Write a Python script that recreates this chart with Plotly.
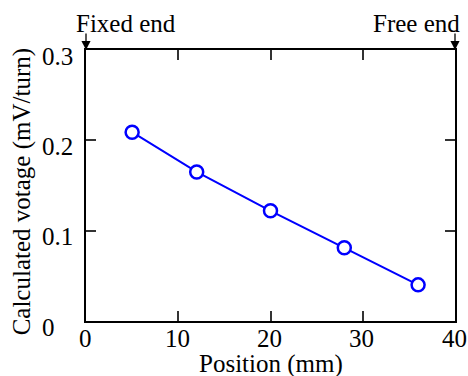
import plotly.graph_objects as go

position_mm = [5, 12, 20, 28, 36]
voltage_mv = [0.209, 0.165, 0.122, 0.081, 0.040]
x_ticks = [0, 10, 20, 30, 40]
x_tick_text = ["0", "10", "20", "30", "40"]
y_ticks = [0, 0.1, 0.2, 0.3]
y_tick_text = ["0", "0.1", "0.2", "0.3"]
end_labels = ["Fixed end", "Free end"]
end_positions = [0, 40]
x_title = "Position (mm)"
y_title = "Calculated votage (mV/turn)"

FONT = "Liberation Serif"
BLUE = "#0000ff"
tfont = dict(family=FONT, size=25, color="black")

fig = go.Figure()
fig.add_trace(go.Scatter(
    x=position_mm, y=voltage_mv, mode="lines+markers",
    line=dict(color=BLUE, width=2),
    marker=dict(symbol="circle", size=13, color="white",
                line=dict(color=BLUE, width=2.5)),
    showlegend=False, cliponaxis=False,
))

axis_common = dict(
    showline=True, linecolor="black", linewidth=2, mirror="ticks",
    ticks="inside", ticklen=10, tickwidth=1.5, tickcolor="#333",
    showgrid=False, zeroline=False, automargin=False, showticklabels=False,
)
fig.update_xaxes(range=[0, 40], tickvals=x_ticks, **axis_common)
fig.update_yaxes(range=[0, 0.3], tickvals=y_ticks, **axis_common)

# tick labels (placed at the axis values)
for v, t in zip(x_ticks, x_tick_text):
    fig.add_annotation(x=v, y=0, xref="x", yref="paper", text=t, showarrow=False,
                       xanchor="center", yanchor="middle", yshift=-17, xshift=-1, font=tfont)
for v, t in zip(y_ticks, y_tick_text):
    fig.add_annotation(x=-0.124, y=v, xref="paper", yref="y", text=t, showarrow=False,
                       xanchor="left", yanchor="middle", yshift=-6, font=tfont)

# axis titles
fig.add_annotation(x=0.5, y=-0.158, xref="paper", yref="paper", text=x_title,
                   showarrow=False, xanchor="center", yanchor="middle", font=tfont)
fig.add_annotation(x=-0.171, y=0.478, xref="paper", yref="paper", text=y_title,
                   showarrow=False, xanchor="center", yanchor="middle", textangle=-90, font=tfont)

text_shift = [40, -39]
for lab, xp, sh in zip(end_labels, end_positions, text_shift):
    fig.add_annotation(x=xp, y=0.3, xref="x", yref="y", text=lab, showarrow=False,
                       yanchor="bottom", yshift=11, xshift=sh, font=tfont)
    fig.add_annotation(x=xp, y=0.3, xref="x", yref="y", text="", showarrow=True,
                       ax=0, ay=-18, arrowhead=2, arrowsize=1.4, arrowwidth=1.3,
                       arrowcolor="black", standoff=0)

fig.update_layout(
    template="none",
    width=468, height=376,
    margin=dict(l=86, r=13, t=50, b=55),
    paper_bgcolor="white", plot_bgcolor="white",
    font=dict(family=FONT, size=25, color="black"),
    showlegend=False,
)
fig.write_html("out.html")
